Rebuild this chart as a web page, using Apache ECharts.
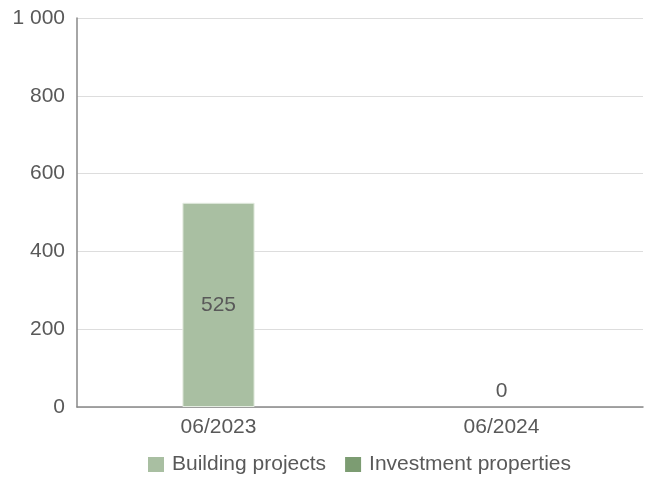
<!DOCTYPE html>
<html>
<head>
<meta charset="utf-8">
<script src="https://cdn.jsdelivr.net/npm/echarts@6/dist/echarts.min.js"></script>
<style>
  html, body { margin: 0; padding: 0; background: #fff; }
  #chart { width: 650px; height: 477px; }
</style>
</head>
<body>
<div id="chart"></div>
<script>
// Period labels on the category axis
const periods = ['06/2023', '06/2024'];
// Values per series (null = no bar for that period)
const buildingProjects = [525, null];
const investmentProperties = [null, 0];
// Y axis range
const yMin = 0;
const yMax = 1000;
const yStep = 200;

const textColor = '#595959';
const fontFamily = '"Liberation Sans", Arial, sans-serif';
const fs = 21;

function fmt(v) {
  return String(v).replace(/\B(?=(\d{3})+(?!\d))/g, ' ');
}

const chart = echarts.init(document.getElementById('chart'), null, { renderer: 'canvas' });
chart.setOption({
  animation: false,
  textStyle: { fontFamily: fontFamily },
  grid: { left: 77, right: 7, top: 18, bottom: 70, containLabel: false },
  legend: {
    top: 449,
    left: 143,
    itemWidth: 16,
    itemHeight: 15,
    itemGap: 19,
    icon: 'rect',
    itemStyle: { borderWidth: 0 },
    textStyle: { color: textColor, fontSize: fs, fontFamily: fontFamily, padding: [0, 0, 0, 3] }
  },
  xAxis: {
    type: 'category',
    data: periods,
    axisLine: { lineStyle: { color: '#888888', width: 1.5 } },
    axisTick: { show: false },
    axisLabel: { color: textColor, fontSize: fs, margin: 10 }
  },
  yAxis: {
    type: 'value',
    min: yMin,
    max: yMax,
    interval: yStep,
    axisLine: { show: true, lineStyle: { color: '#888888', width: 1.5 } },
    axisTick: { show: false },
    splitLine: { lineStyle: { color: '#dddddd' } },
    axisLabel: { color: textColor, fontSize: fs, margin: 12, formatter: fmt }
  },
  series: [
    {
      name: 'Building projects',
      type: 'bar',
      stack: 'total',
      data: buildingProjects,
      barWidth: '25.5%',
      itemStyle: { color: '#a9bfa2', borderColor: '#e4ece1', borderWidth: 1 },
      label: { show: true, position: 'inside', color: textColor, fontSize: fs, formatter: p => fmt(p.value) }
    },
    {
      name: 'Investment properties',
      type: 'bar',
      stack: 'total',
      data: investmentProperties,
      barWidth: '25.5%',
      itemStyle: { color: '#7c9c72' },
      label: { show: true, position: 'top', distance: 5, color: textColor, fontSize: fs, formatter: p => fmt(p.value) }
    }
  ]
});
</script>
</body>
</html>
